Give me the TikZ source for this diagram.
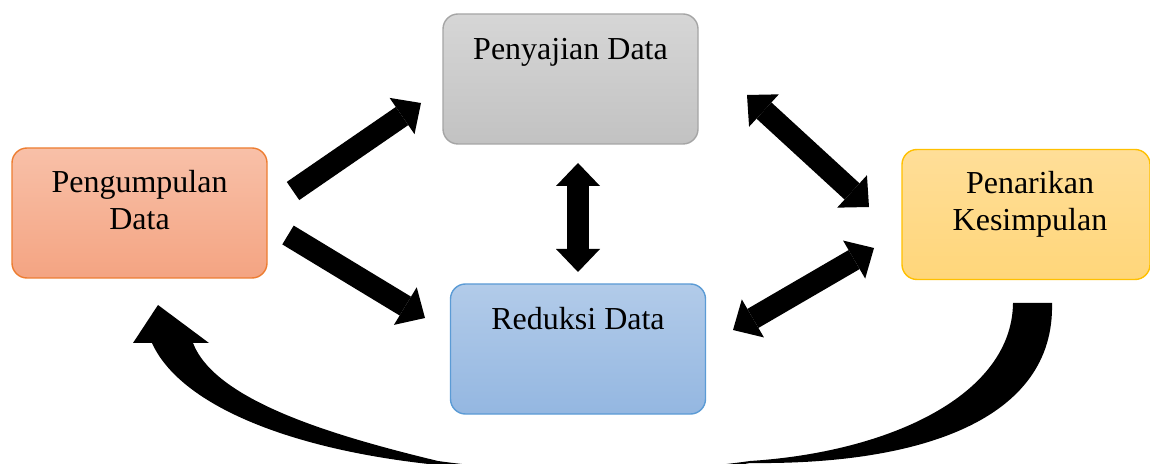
\documentclass[tikz,border=0pt]{standalone}
\usepackage{fontspec}
\setmainfont{Liberation Serif}
\usetikzlibrary{arrows.meta,calc}
\definecolor{pengTop}{RGB}{248,192,168}
\definecolor{pengBot}{RGB}{244,164,130}
\definecolor{pengLine}{RGB}{237,125,49}
\definecolor{sajiTop}{RGB}{214,214,214}
\definecolor{sajiBot}{RGB}{194,194,194}
\definecolor{sajiLine}{RGB}{165,165,165}
\definecolor{tarikTop}{RGB}{255,222,152}
\definecolor{tarikBot}{RGB}{255,214,122}
\definecolor{tarikLine}{RGB}{255,192,0}
\definecolor{redTop}{RGB}{178,203,233}
\definecolor{redBot}{RGB}{148,183,225}
\definecolor{redLine}{RGB}{91,155,213}
\tikzset{
  box/.style={rounded corners=7.5pt, line width=0.7pt, minimum width=127.5pt, minimum height=65pt, inner sep=0pt},
  lbl/.style={font=\fontsize{16pt}{18.5pt}\selectfont, align=center, inner sep=0pt},
  fat/.style={line width=11pt, -{Triangle[length=11.5pt,width=22pt,line width=0pt]}},
  fatboth/.style={line width=11pt, {Triangle[length=11.5pt,width=22pt,line width=0pt]}-{Triangle[length=11.5pt,width=22pt,line width=0pt]}},
}
\begin{document}
\begin{tikzpicture}[x=0.5pt,y=-0.5pt]
\useasboundingbox (0,0) rectangle (1150,464);
% boxes
\node[box, draw=pengLine, top color=pengTop, bottom color=pengBot] (peng) at (139.5,213) {};
\node[box, draw=sajiLine, top color=sajiTop, bottom color=sajiBot] (saji) at (570.5,79) {};
\node[box, draw=tarikLine, top color=tarikTop, bottom color=tarikBot, minimum width=124pt] (tarik) at (1026,214.5) {};
\node[box, draw=redLine, top color=redTop, bottom color=redBot] (reduksi) at (578,349) {};
% labels (anchor=base is the baseline of the last line)
\node[lbl, anchor=base] (tpeng) at (139.5,230) {Pengumpulan\\Data};
\node[lbl, anchor=base] (tsaji) at (570.5,60) {Penyajian Data};
\node[lbl, anchor=base] (ttarik) at (1030,231) {Penarikan\\Kesimpulan};
\node[lbl, anchor=base] (tred) at (578,329) {Reduksi Data};
% arrow end points
\coordinate (a1s) at (293,191); \coordinate (a1e) at (421,103);
\coordinate (a2s) at (288,235); \coordinate (a2e) at (425,318);
\coordinate (a3s) at (578,163); \coordinate (a3e) at (578,272);
\coordinate (a4s) at (747,95);  \coordinate (a4e) at (869,207);
\coordinate (a5s) at (733,330); \coordinate (a5e) at (874,248);
\draw[fat] (a1s) -- (a1e);
\draw[fat] (a2s) -- (a2e);
\draw[fatboth] (a3s) -- (a3e);
\draw[fatboth] (a4s) -- (a4e);
\draw[fatboth] (a5s) -- (a5e);
% big curved return arrow
\begin{scope}
\clip (0,0) rectangle (1150,464);
\fill (152,343) .. controls (180,405) and (290,450) .. (438,465)
  .. controls (530,482) and (660,480) .. (750,463)
  .. controls (920,465) and (1055,420) .. (1052,303)
  -- (1013,303)
  .. controls (1012,395) and (890,452) .. (750,461)
  .. controls (660,474) and (530,474) .. (438,461)
  .. controls (330,435) and (215,400) .. (193,343) -- cycle;
\fill (133,343) -- (158,305) -- (209,343) -- cycle;
\end{scope}
\end{tikzpicture}
\end{document}
